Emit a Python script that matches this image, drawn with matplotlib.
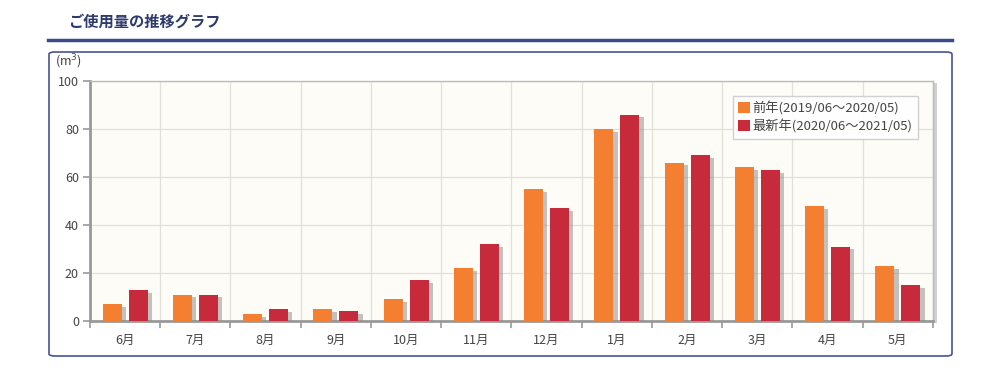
import numpy as np
import matplotlib
matplotlib.use("Agg")
import matplotlib.pyplot as plt
import matplotlib.patheffects as pe
from matplotlib.patches import FancyBboxPatch, Rectangle
from matplotlib.lines import Line2D

plt.rcParams['font.family'] = ['Noto Sans CJK JP', 'DejaVu Sans']

months = ['6月', '7月', '8月', '9月', '10月', '11月', '12月', '1月', '2月', '3月', '4月', '5月']
prev_year = [7, 11, 3, 5, 9, 22, 55, 80, 66, 64, 48, 23]
latest_year = [13, 11, 5, 4, 17, 32, 47, 86, 69, 63, 31, 15]
series_labels = ['前年(2019/06～2020/05)', '最新年(2020/06～2021/05)']
yticks = [0, 20, 40, 60, 80, 100]

W, H = 1000, 372
fig = plt.figure(figsize=(W / 100, H / 100), dpi=100)
fig.patch.set_facecolor('white')

# title + underline
fig.text(68 / W, 1 - 22 / H, 'ご使用量の推移グラフ', fontsize=11, fontweight='bold',
         color='#2e3a6e', va='center', ha='left')
fig.add_artist(Line2D([48 / W, 952 / W], [1 - 40 / H, 1 - 40 / H], color='#3b4a8c', lw=2.5))

# rounded frame
fig.add_artist(FancyBboxPatch((49 / W, 1 - 356 / H), 903 / W, 304 / H,
                              boxstyle='round,pad=0,rounding_size=0.006',
                              transform=fig.transFigure, facecolor='none',
                              edgecolor='#4a5390', lw=1.2))

ax = fig.add_axes([90 / W, 1 - 321 / H, 843 / W, 240 / H])
ax.set_facecolor('#fdfcf6')

# plot-area shadow on the right
fig.add_artist(Rectangle((934 / W, 1 - 323 / H), 3 / W, 240 / H,
                         transform=fig.transFigure, facecolor='#d0d0d0', edgecolor='none', zorder=0))

x = np.arange(len(months))
w = 0.27
shadow = [pe.SimplePatchShadow(offset=(3, -2), shadow_rgbFace='#888888', alpha=0.5), pe.Normal()]
b1 = ax.bar(x - 0.185, prev_year, w, color='#f47f30', label=series_labels[0], zorder=3)
b2 = ax.bar(x + 0.185, latest_year, w, color='#c72a3a', label=series_labels[1], zorder=3)

ax.set_xlim(-0.5, len(months) - 0.5)
ax.set_ylim(0, 100)
ax.set_yticks(yticks)
ax.set_xticks(x)
ax.set_xticklabels(months)
ax.set_xticks(np.arange(-0.5, len(months), 1), minor=True)
ax.tick_params(axis='x', which='major', length=0, pad=9, labelsize=9, labelcolor='#444444')
ax.tick_params(axis='x', which='minor', length=5, width=1.2, color='#999999', direction='out')
ax.tick_params(axis='y', length=5, width=1.2, color='#999999', labelsize=9, labelcolor='#444444', pad=3)
ax.grid(axis='y', color='#e2e0d8', lw=0.9, zorder=0)
ax.grid(axis='x', which='minor', color='#e2e0d8', lw=0.9, zorder=0)
ax.set_axisbelow(True)

for s in ['left', 'bottom']:
    ax.spines[s].set_color('#999999')
    ax.spines[s].set_linewidth(2)
for s in ['top', 'right']:
    ax.spines[s].set_color('#bbbbbb')
    ax.spines[s].set_linewidth(1)

fig.text(55 / W, 1 - 62 / H, '(m$^3$)', fontsize=9, color='#444444', va='center', ha='left')

leg = ax.legend(loc='upper right', bbox_to_anchor=(0.99, 0.965), fontsize=9.5,
                frameon=True, fancybox=False, handlelength=0.9, handleheight=0.9,
                handletextpad=0.2, borderpad=0.4, labelspacing=0.3, shadow=False)
leg.get_frame().set_edgecolor('#cccccc')
leg.get_frame().set_facecolor('white')
leg.get_frame().set_alpha(0.9)
for t in leg.get_texts():
    t.set_color('#444444')

# bar drop shadows (after the legend so its swatches stay flat)
for b in list(b1) + list(b2):
    b.set_path_effects(shadow)

fig.savefig('out.png', dpi=100)
